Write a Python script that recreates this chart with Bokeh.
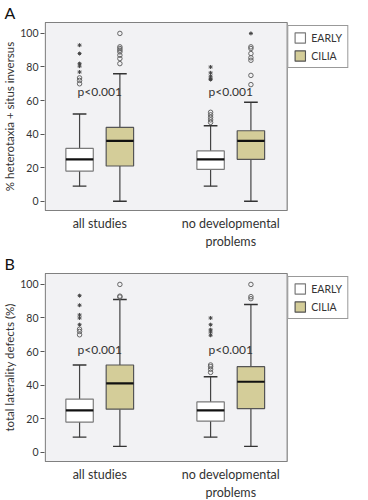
from bokeh.plotting import figure
from bokeh.models import ColumnDataSource, FixedTicker, Legend, LegendItem, Range1d
from bokeh.layouts import column
from bokeh.embed import file_html
from bokeh.resources import INLINE

# ---------------- data ----------------
groups = ["all studies", "no developmental\nproblems"]
series = ["EARLY", "CILIA"]
p_text = ["p<0.001", "p<0.001"]

# order of boxes: all-EARLY, all-CILIA, nodev-EARLY, nodev-CILIA
A_lo = [9, 0, 9, 0]
A_q1 = [18, 21, 19, 25]
A_med = [25, 36, 25, 36]
A_q3 = [31.5, 44, 30, 42]
A_hi = [52, 76, 45, 59]
A_circles = [[73.5, 72, 70], [100, 92, 91, 90, 89, 87, 85, 82],
             [53, 51.5, 50, 48.5, 47], [92, 91, 88, 85.5, 84, 75, 69.5]]
A_stars = [[93, 88, 82, 80.5, 77], [], [80, 76.5, 74.5, 73, 72.5], [100]]
A_p_y = [65.5, 65.5]

B_lo = [9, 3.5, 9, 3.5]
B_q1 = [18, 25.7, 18.6, 26]
B_med = [25, 41, 25, 42]
B_q3 = [31.7, 52, 30, 51]
B_hi = [52, 91, 45, 88]
B_circles = [[73.3, 72, 70], [100, 93, 92.5], [52, 51, 49.5, 47.6], [100, 92.7, 91.5]]
B_stars = [[93.3, 87.6, 81.8, 80, 76], [], [80, 76, 73, 71.6, 69.7], []]
B_p_y = [61.4, 61.4]

y_ticks = [0, 20, 40, 60, 80, 100]

# ---------------- style ----------------
FONT = "Lato"
TXT = "#333333"
FILL = {"EARLY": "#ffffff", "CILIA": "#d4cd99"}
EDGE = {"EARLY": "#7a7a7a", "CILIA": "#555555"}
group_centers = [1.35, 4.6]
offsets = [-0.5, 0.5]
BOX_W = 0.68
CAP_W = 0.34
X_MAX_PANEL = 6.0        # right edge of grey plotting panel (x units)
X_MAX_VIEW = 7.62        # extra room on the right for the legend
Y_LO, Y_HI = -5.5, 106.5


def make_panel(letter, ylabel, lo, q1, med, q3, hi, circles, stars, p_y):
    p = figure(frame_width=308, frame_height=190, output_backend="svg", toolbar_location=None,
               x_range=Range1d(-0.02, X_MAX_VIEW), y_range=Range1d(Y_LO - 0.6, Y_HI + 0.6),
               min_border_left=2, min_border_right=0, min_border_top=0, min_border_bottom=2)
    p.background_fill_color = "white"
    p.border_fill_color = "white"
    p.outline_line_color = None
    p.grid.visible = False

    p.title.text = letter
    p.title.text_font = FONT
    p.title.text_font_size = "16px"
    p.title.text_font_style = "normal"
    p.title.text_color = "#111111"
    p.title.offset = -40
    p.title.standoff = 0

    # grey panel
    p.quad(left=[0], right=[X_MAX_PANEL], bottom=[Y_LO], top=[Y_HI],
           fill_color="#f2f2f4", line_color="#808080", line_width=1.2)

    xs = []
    names = []
    for gi, gc in enumerate(group_centers):
        for si, off in enumerate(offsets):
            xs.append(gc + off)
            names.append(series[si])

    renderers = {}
    for si, s in enumerate(series):
        idx = [i for i in range(len(xs)) if names[i] == s]
        src = ColumnDataSource(dict(
            x=[xs[i] for i in idx],
            lo=[lo[i] for i in idx], q1=[q1[i] for i in idx],
            med=[med[i] for i in idx], q3=[q3[i] for i in idx],
            hi=[hi[i] for i in idx],
            xl=[xs[i] - BOX_W / 2 for i in idx], xr=[xs[i] + BOX_W / 2 for i in idx],
            cl=[xs[i] - CAP_W / 2 for i in idx], cr=[xs[i] + CAP_W / 2 for i in idx],
        ))
        p.segment(x0="x", y0="q3", x1="x", y1="hi", source=src, line_color="#444444", line_width=1.2)
        p.segment(x0="x", y0="lo", x1="x", y1="q1", source=src, line_color="#444444", line_width=1.2)
        p.segment(x0="cl", y0="hi", x1="cr", y1="hi", source=src, line_color="#333333", line_width=1.4)
        p.segment(x0="cl", y0="lo", x1="cr", y1="lo", source=src, line_color="#333333", line_width=1.4)
        r = p.vbar(x="x", width=BOX_W, bottom="q1", top="q3", source=src,
                   fill_color=FILL[s], line_color=EDGE[s], line_width=1.2)
        renderers[s] = r
        p.segment(x0="xl", y0="med", x1="xr", y1="med", source=src, line_color="#111111", line_width=2.2)

    cx, cy, sx, sy = [], [], [], []
    for i, x in enumerate(xs):
        for v in circles[i]:
            cx.append(x); cy.append(v)
        for v in stars[i]:
            sx.append(x); sy.append(v)
    p.scatter(cx, cy, marker="circle", size=4.5, fill_color=None, line_color="#666666", line_width=1)
    p.scatter(sx, sy, marker="asterisk", size=4, line_color="#444444", line_width=1)

    p.text(x=group_centers, y=p_y, text=p_text, text_font={"value": FONT}, text_font_size="12px",
           text_color=TXT, text_align="center", text_baseline="middle")

    p.yaxis.ticker = FixedTicker(ticks=y_ticks)
    p.yaxis.axis_label = ylabel
    p.yaxis.axis_label_text_font = FONT
    p.yaxis.axis_label_text_font_size = "11.5px"
    p.yaxis.axis_label_text_font_style = "normal"
    p.yaxis.axis_label_text_color = TXT
    p.yaxis.axis_label_standoff = 1
    p.yaxis.major_label_text_font = FONT
    p.yaxis.major_label_text_font_size = "10.5px"
    p.yaxis.major_label_text_color = TXT
    p.yaxis.major_label_standoff = 2
    p.yaxis.axis_line_color = None
    p.yaxis.major_tick_line_color = "#555555"
    p.yaxis.major_tick_out = 4
    p.yaxis.major_tick_in = 0
    p.yaxis.minor_tick_line_color = None

    p.xaxis.ticker = FixedTicker(ticks=group_centers)
    p.xaxis.major_label_overrides = {group_centers[i]: groups[i] for i in range(len(groups))}
    p.xaxis.major_label_text_font = FONT
    p.xaxis.major_label_text_font_size = "12.5px"
    p.xaxis.major_label_text_color = TXT
    p.xaxis.major_label_standoff = 4
    p.xaxis.axis_line_color = None
    p.xaxis.major_tick_line_color = None
    p.xaxis.major_tick_out = 0
    p.xaxis.major_tick_in = 0
    p.xaxis.minor_tick_line_color = None

    legend = Legend(items=[LegendItem(label=s, renderers=[renderers[s]]) for s in series],
                    location="top_right")
    legend.label_text_font = FONT
    legend.label_text_font_size = "10.5px"
    legend.label_text_color = TXT
    legend.glyph_width = 13
    legend.glyph_height = 13
    legend.label_standoff = 5
    legend.spacing = 5
    legend.padding = 5
    legend.margin = 4
    legend.border_line_color = "#333333"
    legend.border_line_width = 1.2
    legend.background_fill_color = "white"
    legend.label_height = 13
    p.add_layout(legend)
    return p


pA = make_panel("A", "% heterotaxia + situs inversus", A_lo, A_q1, A_med, A_q3, A_hi,
                A_circles, A_stars, A_p_y)
pB = make_panel("B", "total laterality defects (%)", B_lo, B_q1, B_med, B_q3, B_hi,
                B_circles, B_stars, B_p_y)

layout = column(pA, pB, spacing=0)
open("out.html", "w").write(file_html(layout, INLINE))
